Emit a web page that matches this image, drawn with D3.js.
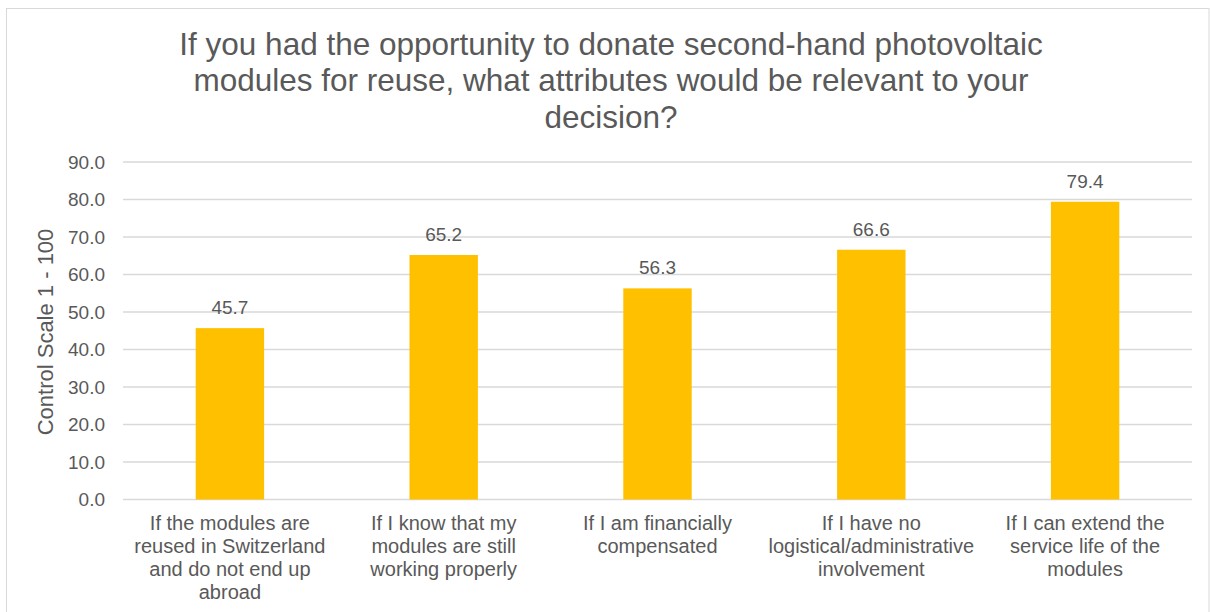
<!DOCTYPE html>
<html>
<head>
<meta charset="utf-8">
<script src="https://cdn.jsdelivr.net/npm/d3@7"></script>
<style>
  body { margin: 0; background: #fff; }
  text { font-family: "Liberation Sans", Arial, sans-serif; fill: #595959; }
</style>
</head>
<body>
<div id="chart"></div>
<script>
const categories = [
  ["If the modules are", "reused in Switzerland", "and do not end up", "abroad"],
  ["If I know that my", "modules are still", "working properly"],
  ["If I am financially", "compensated"],
  ["If I have no", "logistical/administrative", "involvement"],
  ["If I can extend the", "service life of the", "modules"]
];
const values = [45.7, 65.2, 56.3, 66.6, 79.4];
const yTicks = [0, 10, 20, 30, 40, 50, 60, 70, 80, 90];
const titleLines = [
  "If you had the opportunity to donate second-hand photovoltaic",
  "modules for reuse, what attributes would be relevant to your",
  "decision?"
];
const yTitle = "Control Scale 1 - 100";

const W = 1210, H = 612;
const plot = { left: 123, right: 1192, top: 162, bottom: 499.5 };

const svg = d3.select("#chart").append("svg")
  .attr("width", W)
  .attr("height", H);

// chart border
svg.append("rect")
  .attr("x", 6.5).attr("y", 8.5)
  .attr("width", W - 7.5).attr("height", H)
  .attr("fill", "none")
  .attr("stroke", "#d9d9d9");

const x = d3.scaleBand().domain(d3.range(values.length)).range([plot.left, plot.right]).paddingInner(0.68).paddingOuter(0.34);
const y = d3.scaleLinear().domain([0, 90]).range([plot.bottom, plot.top]);

// gridlines
svg.append("g")
  .selectAll("line")
  .data(yTicks)
  .enter().append("line")
  .attr("x1", plot.left).attr("x2", plot.right)
  .attr("y1", d => y(d)).attr("y2", d => y(d))
  .attr("stroke", "#d9d9d9")
  .attr("stroke-width", 1.3);

// y axis labels
const yAxis = svg.append("g")
  .attr("transform", `translate(${plot.left - 6},0)`)
  .call(d3.axisLeft(y).tickValues(yTicks).tickFormat(d3.format(".1f")).tickSize(0).tickPadding(12));
yAxis.select(".domain").remove();
yAxis.selectAll("text")
  .style("font-family", "Liberation Sans, Arial, sans-serif")
  .style("font-size", "19px")
  .attr("fill", "#595959");

// bars
svg.append("g")
  .selectAll("rect")
  .data(values)
  .enter().append("rect")
  .attr("x", (d, i) => x(i))
  .attr("y", d => y(d))
  .attr("width", x.bandwidth())
  .attr("height", d => y(0) - y(d))
  .attr("fill", "#ffc000");

// value labels
svg.selectAll("text.label")
  .data(values)
  .enter().append("text")
  .attr("class", "label")
  .attr("x", (d, i) => x(i) + x.bandwidth() / 2)
  .attr("y", d => y(d) - 14)
  .attr("text-anchor", "middle")
  .style("font-size", "19px")
  .text(d => d.toFixed(1));

// category labels
const cat = svg.append("g")
  .selectAll("text")
  .data(categories)
  .enter().append("text")
  .attr("text-anchor", "middle")
  .style("font-size", "20px");
cat.selectAll("tspan")
  .data((d, i) => d.map(s => ({ s, i })))
  .enter().append("tspan")
  .attr("x", d => x(d.i) + x.bandwidth() / 2)
  .attr("y", (d, j) => 529.5 + j * 23.3)
  .text(d => d.s);

// y title
svg.append("text")
  .attr("transform", `translate(53,332) rotate(-90)`)
  .attr("text-anchor", "middle")
  .style("font-size", "22px")
  .text(yTitle);

// chart title
svg.append("g")
  .selectAll("text")
  .data(titleLines)
  .enter().append("text")
  .attr("x", 611)
  .attr("y", (d, i) => 55 + i * 36.3)
  .attr("text-anchor", "middle")
  .style("font-size", "31.5px")
  .text(d => d);
</script>
</body>
</html>
